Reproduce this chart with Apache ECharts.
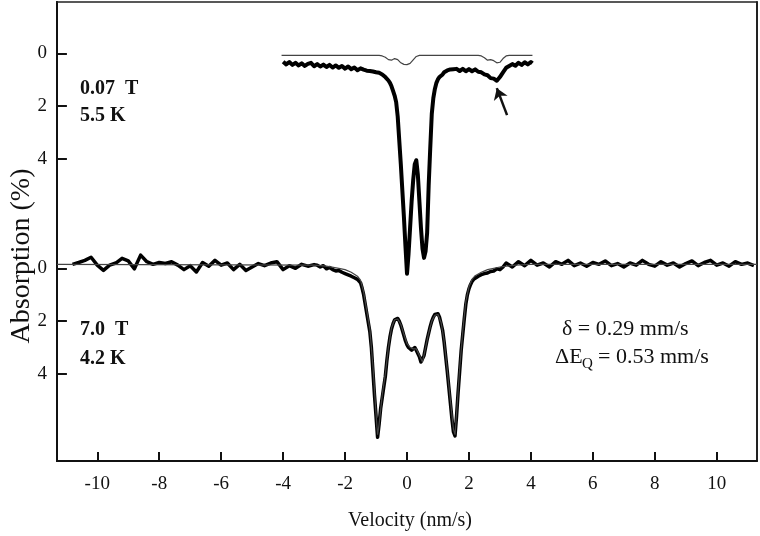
<!DOCTYPE html>
<html>
<head>
<meta charset="utf-8">
<script src="https://cdn.jsdelivr.net/npm/echarts@6/dist/echarts.min.js"></script>
<style>html,body{margin:0;padding:0;background:#fff}#c{width:760px;height:536px}</style>
</head>
<body>
<div id="c"></div>
<script>
// ---- tick labels ----
const xTicks = [-10, -8, -6, -4, -2, 0, 2, 4, 6, 8, 10];
const yTicks = [0, 2, 4];
const xMin = -11.3, xMax = 11.3;

// ---- 0.07 T, 5.5 K spectrum (top, measured) ----
const topVel = [
  -4.0,-3.9,-3.8,-3.7,-3.6,-3.5,-3.4,-3.3,-3.2,-3.1,-3.0,-2.9,-2.8,-2.7,-2.6,-2.5,-2.4,-2.3,-2.2,-2.1,-2.0,-1.9,-1.8,-1.7,-1.6,-1.5,-1.4,
  -1.35,-1.30,-1.25,-1.20,-1.15,-1.10,-1.05,-1.00,-0.95,-0.90,-0.85,-0.80,-0.75,-0.70,-0.65,-0.60,-0.55,-0.50,-0.45,-0.40,-0.35,-0.30,-0.25,-0.20,-0.15,-0.10,-0.05,
  0.00,0.05,0.10,0.15,0.20,0.25,0.30,0.35,0.40,0.45,0.50,0.55,0.60,0.65,0.70,0.75,0.80,0.85,0.90,0.95,1.00,1.05,1.10,1.15,1.20,1.25,1.30,1.35,1.40,1.45,1.50,1.55,1.60,1.65,
  1.7,1.8,1.9,2.0,2.1,2.2,2.3,2.4,2.5,2.6,2.7,2.8,2.9,3.0,3.1,3.2,3.3,3.4,3.5,3.6,3.7,3.8,3.9,4.0,4.05
];
const topAbs = [
  0.32,0.42,0.33,0.44,0.36,0.46,0.38,0.48,0.40,0.36,0.49,0.41,0.50,0.43,0.52,0.44,0.54,0.46,0.55,0.48,0.58,0.50,0.60,0.54,0.64,0.57,0.62,
  0.62,0.66,0.61,0.67,0.63,0.69,0.65,0.72,0.68,0.74,0.73,0.80,0.82,0.90,0.93,1.03,1.12,1.25,1.42,1.60,1.85,2.40,3.30,4.20,5.20,6.20,7.30,
  8.35,7.60,6.60,5.60,4.80,4.20,4.05,4.60,5.60,6.60,7.40,7.75,7.50,6.80,5.00,3.60,2.30,1.70,1.35,1.12,0.98,0.90,0.84,0.80,0.72,0.70,0.65,0.68,0.61,0.66,0.60,0.65,0.59,0.64,
  0.67,0.59,0.68,0.60,0.68,0.61,0.70,0.72,0.80,0.83,0.94,0.96,1.04,0.90,0.72,0.55,0.48,0.41,0.47,0.36,0.44,0.34,0.42,0.33,0.38
];
// top: minor component / baseline curve (thin)
const compVel = [-4.05,-0.9,-0.8,-0.7,-0.6,-0.5,-0.4,-0.3,-0.2,-0.1,0.0,0.1,0.2,0.3,0.4,2.3,2.4,2.5,2.6,2.7,2.8,2.9,3.0,3.1,3.2,3.3,4.05];
const compAbs = [0.08,0.08,0.10,0.15,0.24,0.26,0.20,0.24,0.36,0.42,0.43,0.38,0.25,0.12,0.08,0.08,0.10,0.17,0.26,0.24,0.28,0.36,0.34,0.20,0.10,0.08,0.08];

// ---- 7.0 T, 4.2 K spectrum (bottom, measured) ----
const botVel = [
  -10.8,-10.6,-10.4,-10.2,-10.0,-9.8,-9.6,-9.4,-9.2,-9.0,-8.8,-8.6,-8.4,-8.2,-8.0,-7.8,-7.6,-7.4,-7.2,-7.0,
  -6.8,-6.6,-6.4,-6.2,-6.0,-5.8,-5.6,-5.4,-5.2,-5.0,-4.8,-4.6,-4.4,-4.2,-4.0,-3.8,-3.6,-3.4,-3.2,-3.0,
  -2.9,-2.8,-2.7,-2.6,-2.5,-2.4,-2.3,-2.2,-2.1,-2.0,-1.9,-1.8,-1.7,-1.6,
  -1.50,-1.45,-1.40,-1.35,-1.30,-1.25,-1.20,-1.15,-1.10,-1.05,-1.00,-0.95,-0.90,-0.85,-0.80,-0.75,-0.70,-0.65,-0.60,-0.55,-0.50,-0.45,-0.40,-0.35,-0.30,-0.25,-0.20,-0.15,-0.10,-0.05,
  0.00,0.05,0.10,0.15,0.20,0.25,0.30,0.35,0.40,0.45,0.50,0.55,0.60,0.65,0.70,0.75,0.80,0.85,0.90,0.95,1.00,1.05,1.10,1.15,1.20,1.25,1.30,1.35,1.40,1.45,1.50,1.55,1.60,1.65,1.70,1.75,1.80,1.85,1.90,1.95,2.00,2.05,2.10,2.15,2.20,
  2.3,2.4,2.5,2.6,2.7,2.8,2.9,3.0,3.1,
  3.2,3.4,3.6,3.8,4.0,4.2,4.4,4.6,4.8,5.0,5.2,5.4,5.6,5.8,6.0,6.2,6.4,6.6,6.8,7.0,
  7.2,7.4,7.6,7.8,8.0,8.2,8.4,8.6,8.8,9.0,9.2,9.4,9.6,9.8,10.0,10.2,10.4,10.6,10.8,11.0,11.2
];
const botAbs = [
  -0.15,-0.22,-0.30,-0.42,-0.12,0.08,-0.12,-0.20,-0.38,-0.28,0.02,-0.50,-0.25,-0.15,-0.22,-0.18,-0.25,-0.12,0.05,-0.10,
  0.14,-0.22,-0.08,-0.30,-0.12,-0.20,0.05,-0.15,0.08,-0.05,-0.18,-0.10,-0.20,-0.25,0.05,-0.10,0.00,-0.15,-0.08,-0.14,
  -0.12,-0.05,-0.10,0.02,-0.03,0.05,0.10,0.08,0.15,0.20,0.25,0.30,0.36,0.42,
  0.55,0.75,1.00,1.35,1.70,2.05,2.40,3.00,3.90,4.80,5.60,6.40,5.90,5.30,4.90,4.50,4.10,3.50,3.00,2.60,2.30,2.10,1.95,1.90,1.90,2.00,2.15,2.35,2.55,2.75,
  2.90,3.00,3.05,3.10,3.05,3.00,3.10,3.15,3.35,3.55,3.60,3.30,3.00,2.70,2.45,2.20,2.00,1.85,1.75,1.70,1.72,1.85,2.10,2.35,2.80,3.35,3.90,4.50,5.10,5.70,6.20,6.35,5.60,4.70,3.90,3.10,2.50,1.90,1.35,1.00,0.78,0.62,0.50,0.42,0.36,
  0.30,0.24,0.20,0.18,0.12,0.10,0.02,0.05,-0.05,
  -0.20,-0.05,-0.25,-0.10,-0.30,-0.12,-0.20,-0.05,-0.25,-0.15,-0.30,-0.10,-0.20,-0.08,-0.22,-0.15,-0.28,-0.10,-0.18,-0.05,
  -0.20,-0.12,-0.30,-0.15,-0.08,-0.25,-0.12,-0.20,-0.05,-0.18,-0.28,-0.10,-0.22,-0.30,-0.12,-0.20,-0.08,-0.25,-0.15,-0.20,-0.10
];
// bottom: fitted curve (thin)
const fitVel = [-11.3,-3.0,-2.6,-2.2,-2.0,-1.8,-1.6,-1.5,-1.4,-1.3,-1.2,-1.1,-1.0,-0.95,-0.9,-0.8,-0.7,-0.6,-0.5,-0.4,-0.3,-0.2,-0.1,0.0,0.1,0.2,0.3,0.4,0.5,0.6,0.7,0.8,0.9,1.0,1.1,1.2,1.3,1.4,1.5,1.55,1.6,1.7,1.8,1.9,2.0,2.1,2.2,2.4,2.6,3.0,3.5,4.0,11.3];
const fitAbs = [-0.15,-0.12,-0.08,0.0,0.05,0.15,0.3,0.45,0.9,1.6,2.3,3.7,5.5,6.3,5.9,4.8,4.0,3.0,2.25,1.95,1.92,2.12,2.5,2.85,3.0,3.05,3.05,3.3,3.55,3.0,2.45,2.0,1.78,1.75,2.05,2.75,3.85,5.0,6.1,6.3,5.5,3.8,2.4,1.25,0.7,0.42,0.28,0.15,0.05,-0.05,-0.12,-0.15,-0.15];

// arrow (data coords on the top spectrum axis)
const arrowFrom = [3.23, 2.34];
const arrowTo = [2.9, 1.32];

const zip = (a, b) => a.map((v, i) => [v, b[i]]);
const SERIF = '"Liberation Serif", "Times New Roman", serif';

// inward y ticks drawn as short segments in data space (tick length ~ 0.32 velocity units)
const yTickLen = 0.32;
const inwardTicks = () => ({
  silent: true, symbol: ['none', 'none'], label: { show: false },
  lineStyle: { color: '#111', width: 2, type: 'solid' },
  emphasis: { disabled: true },
  data: yTicks.map(t => [{ coord: [xMin, t] }, { coord: [xMin + yTickLen, t] }])
});

const chart = echarts.init(document.getElementById('c'));
const yAxisFor = (min, max) => ({
  type: 'value', inverse: true, position: 'left', min, max,
  splitLine: { show: false },
  axisLine: { show: true, onZero: false, lineStyle: { color: '#111', width: 2 } },
  axisTick: { show: false },
  axisLabel: { customValues: yTicks.slice(), margin: 10, fontFamily: SERIF, fontSize: 19, color: '#111' }
});
const frameAxis = (pos, w) => ({
  type: 'value', min: 1, max: 2, position: pos,
  splitLine: { show: false }, axisTick: { show: false }, axisLabel: { show: false },
  axisLine: { show: true, onZero: false, lineStyle: { color: '#222', width: w } }
});
chart.setOption({
  animation: false,
  backgroundColor: '#fff',
  grid: { left: 57, right: 3, top: 2, bottom: 75, show: false },
  xAxis: [
    {
      type: 'value', min: xMin, max: xMax, position: 'bottom',
      splitLine: { show: false },
      axisLine: { onZero: false, lineStyle: { color: '#111', width: 2 } },
      axisTick: { show: true, inside: true, length: 9, customValues: xTicks, lineStyle: { color: '#111', width: 2 } },
      axisLabel: { customValues: xTicks, margin: 14, fontFamily: SERIF, fontSize: 19, color: '#111' }
    },
    frameAxis('top', 1.5)
  ],
  yAxis: [
    yAxisFor(-1.943, 15.443),
    yAxisFor(-10.087, 7.299),
    frameAxis('right', 2)
  ],
  series: [
    { type: 'line', name: '7.0 T data', yAxisIndex: 1, data: zip(botVel, botAbs), showSymbol: false,
      lineStyle: { color: '#000', width: 3.5, join: 'round' } },
    { type: 'line', name: '7.0 T fit', yAxisIndex: 1, data: zip(fitVel, fitAbs), showSymbol: false,
      lineStyle: { color: '#444', width: 1.2 }, markLine: inwardTicks() },
    { type: 'line', name: '0.07 T component', yAxisIndex: 0, data: zip(compVel, compAbs), showSymbol: false,
      lineStyle: { color: '#444', width: 1.2 }, markLine: inwardTicks() },
    { type: 'line', name: '0.07 T data', yAxisIndex: 0, data: zip(topVel, topAbs), showSymbol: false,
      lineStyle: { color: '#000', width: 4, join: 'round' },
      markLine: {
        silent: true, symbol: ['none', 'arrow'], symbolSize: 11,
        label: { show: false },
        lineStyle: { color: '#111', width: 2.5, type: 'solid' },
        data: [[{ coord: arrowFrom }, { coord: arrowTo }]]
      } }
  ],
  graphic: [
    { type: 'text', x: 22, y: 256, rotation: Math.PI / 2,
      style: { text: 'Absorption (%)', font: '28px ' + SERIF, fill: '#111', textAlign: 'center', textVerticalAlign: 'middle', align: 'center', verticalAlign: 'middle' } },
    { type: 'text', x: 410, y: 521,
      style: { text: 'Velocity (nm/s)', font: '20px ' + SERIF, fill: '#111', textAlign: 'center', textVerticalAlign: 'middle', align: 'center', verticalAlign: 'middle' } },
    { type: 'text', x: 80, y: 89,
      style: { text: '0.07  T', font: 'bold 20px ' + SERIF, fill: '#111', textVerticalAlign: 'middle', verticalAlign: 'middle' } },
    { type: 'text', x: 80, y: 116,
      style: { text: '5.5 K', font: 'bold 20px ' + SERIF, fill: '#111', textVerticalAlign: 'middle', verticalAlign: 'middle' } },
    { type: 'text', x: 80, y: 330,
      style: { text: '7.0  T', font: 'bold 20px ' + SERIF, fill: '#111', textVerticalAlign: 'middle', verticalAlign: 'middle' } },
    { type: 'text', x: 80, y: 359,
      style: { text: '4.2 K', font: 'bold 20px ' + SERIF, fill: '#111', textVerticalAlign: 'middle', verticalAlign: 'middle' } },
    { type: 'text', x: 562, y: 329,
      style: { text: 'δ = 0.29 mm/s', font: '22px ' + SERIF, fill: '#111', textVerticalAlign: 'middle', verticalAlign: 'middle' } },
    { type: 'text', x: 555, y: 357,
      style: { text: 'ΔE', font: '22px ' + SERIF, fill: '#111', textVerticalAlign: 'middle', verticalAlign: 'middle' } },
    { type: 'text', x: 582, y: 364,
      style: { text: 'Q', font: '15px ' + SERIF, fill: '#111', textVerticalAlign: 'middle', verticalAlign: 'middle' } },
    { type: 'text', x: 598, y: 357,
      style: { text: '= 0.53 mm/s', font: '22px ' + SERIF, fill: '#111', textVerticalAlign: 'middle', verticalAlign: 'middle' } }
  ]
});
</script>
</body>
</html>
